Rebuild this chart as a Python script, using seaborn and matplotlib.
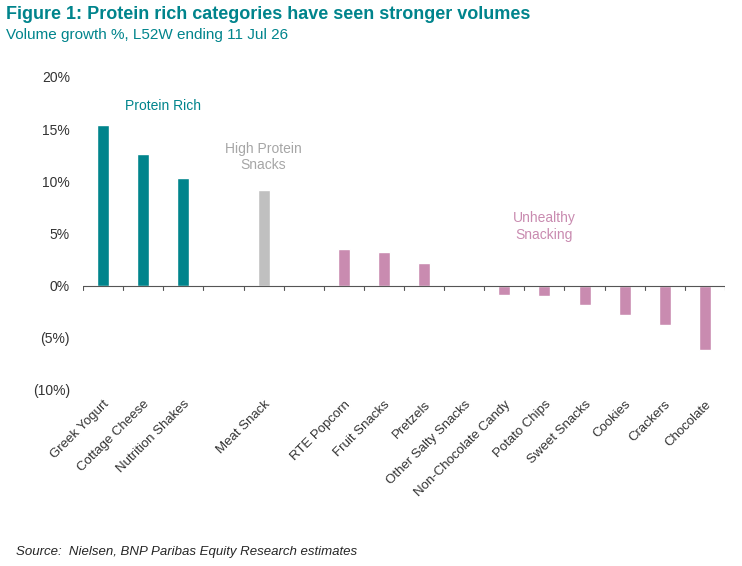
import matplotlib
matplotlib.use("Agg")
import matplotlib.pyplot as plt
import seaborn as sns
import pandas as pd

sns.set_theme(style="white")
plt.rcParams['font.family'] = ['Liberation Sans', 'DejaVu Sans']

categories = ["Greek Yogurt", "Cottage Cheese", "Nutrition Shakes", " ", "Meat Snack", "  ",
              "RTE Popcorn", "Fruit Snacks", "Pretzels", "Other Salty Snacks", "Non-Chocolate Candy",
              "Potato Chips", "Sweet Snacks", "Cookies", "Crackers", "Chocolate"]
values = [15.4, 12.65, 10.35, 0, 9.2, 0, 3.55, 3.26, 2.2, -0.1, -0.86, -0.96, -1.9, -2.8, -3.74, -6.2]
groups = ["Protein Rich"] * 3 + ["gap", "High Protein", "gap"] + ["Unhealthy"] * 10
palette = {"Protein Rich": "#00848C", "High Protein": "#C0C0C0", "Unhealthy": "#C98BB0", "gap": "white"}

df = pd.DataFrame({"cat": categories, "val": values, "grp": groups})

fig = plt.figure(figsize=(7.42, 5.66), dpi=100)
ax = fig.add_axes([0.112, 0.311, 0.865, 0.553])
sns.barplot(data=df, x="cat", y="val", hue="grp", palette=palette, dodge=False, saturation=1,
            width=0.3, legend=False, ax=ax, order=categories)
ax.set_xlim(-0.5, len(categories) - 0.5)
ax.set_ylim(-10, 20)
ax.set_yticks(range(-10, 21, 5))
ax.set_yticklabels(["(10%)", "(5%)", "0%", "5%", "10%", "15%", "20%"], fontsize=10)
ax.set_xlabel(""); ax.set_ylabel("")
ax.set_xticks(range(len(categories)))
ax.set_xticklabels(categories, rotation=45, ha="right", rotation_mode="anchor", fontsize=9.5)
ax.tick_params(axis="x", length=0, pad=6, colors="#333333")
ax.tick_params(axis="y", colors="#333333")
for s in ax.spines.values():
    s.set_visible(False)
ax.axhline(0, color="#555555", lw=0.8)
for i in range(len(categories) + 1):
    ax.plot([i - 0.5, i - 0.5], [0, -0.4], color="#555555", lw=0.8)

ax.text(1.5, 16.8, "Protein Rich", color="#00848C", ha="center", fontsize=10)
ax.text(4, 11.2, "High Protein\nSnacks", color="#A6A6A6", ha="center", fontsize=10)
ax.text(11, 4.5, "Unhealthy\nSnacking", color="#C98BB0", ha="center", fontsize=10)

fig.text(0.008, 0.975, "Figure 1: Protein rich categories have seen stronger volumes",
         color="#00848C", fontsize=13, fontweight="bold", va="center")
fig.text(0.008, 0.938, "Volume growth %, L52W ending 11 Jul 26", color="#00848C", fontsize=11, va="center")
fig.text(0.022, 0.025, "Source:  Nielsen, BNP Paribas Equity Research estimates",
         fontsize=9.5, style="italic", va="center")
fig.savefig("out.png", dpi=100)
